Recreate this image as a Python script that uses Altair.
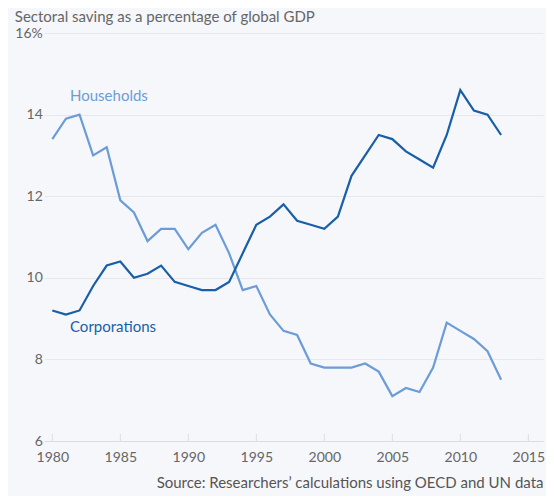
import altair as alt
import pandas as pd

years = list(range(1980, 2014))
households = [13.4, 13.9, 14.0, 13.0, 13.2, 11.9, 11.6, 10.9, 11.2, 11.2,
              10.7, 11.1, 11.3, 10.6, 9.7, 9.8, 9.1, 8.7, 8.6, 7.9,
              7.8, 7.8, 7.8, 7.9, 7.7, 7.1, 7.3, 7.2, 7.8, 8.9,
              8.7, 8.5, 8.2, 7.5]
corporations = [9.2, 9.1, 9.2, 9.8, 10.3, 10.4, 10.0, 10.1, 10.3, 9.9,
                 9.8, 9.7, 9.7, 9.9, 10.6, 11.3, 11.5, 11.8, 11.4, 11.3,
                 11.2, 11.5, 12.5, 13.0, 13.5, 13.4, 13.1, 12.9, 12.7, 13.5,
                 14.6, 14.1, 14.0, 13.5]
tick_years = [1980, 1985, 1990, 1995, 2000, 2005, 2010, 2015]
y_ticks = [6, 8, 10, 12, 14, 16]

label_names = ["Households", "Corporations"]
label_x = [1981.3, 1981.3]
label_y = [14.45, 8.8]

FONT = "Lato"
C_H = "#6c9cd8"
C_C = "#185fa8"

df = pd.DataFrame({
    "year": years * 2,
    "value": households + corporations,
    "series": ["Households"] * len(years) + ["Corporations"] * len(years),
})
labels = pd.DataFrame({"name": label_names, "year": label_x, "value": label_y})
ticks = pd.DataFrame({"year": tick_years, "y0": [6] * len(tick_years), "y1": [6.17] * len(tick_years)})

xscale = alt.Scale(domain=[1979.41, 2016.08], nice=False, zero=False)
yscale = alt.Scale(domain=[6, 16], nice=False, zero=False)
cscale = alt.Scale(domain=["Households", "Corporations"], range=[C_H, C_C])

lines = alt.Chart(df).mark_line(strokeWidth=2.2).encode(
    x=alt.X("year:Q", scale=xscale,
            axis=alt.Axis(values=tick_years, format="d", grid=False, ticks=False,
                          domainColor="#d9dce3", labelColor="#666666", labelFontSize=14,
                          labelFont=FONT, labelPadding=9,
                          title="Source: Researchers\u2019 calculations using OECD and UN data",
                          titleAnchor="end", titleAlign="right", titleFontWeight="normal",
                          titleFont=FONT, titleFontSize=15, titleColor="#555555",
                          titlePadding=11)),
    y=alt.Y("value:Q", scale=yscale,
            axis=alt.Axis(values=y_ticks, ticks=False, domain=False, gridColor="#e6e8ee",
                          labelColor="#666666", labelFontSize=14, labelFont=FONT,
                          labelPadding=2,
                          labelExpr="datum.value == 16 ? '16%' : datum.label",
                          title=None)),
    color=alt.Color("series:N", scale=cscale, legend=None),
    detail="series:N",
)

tick_rules = alt.Chart(ticks).mark_rule(color="#d9dce3", strokeWidth=1).encode(
    x=alt.X("year:Q", scale=xscale),
    y=alt.Y("y0:Q", scale=yscale),
    y2="y1:Q",
)

texts = alt.Chart(labels).mark_text(align="left", baseline="middle", fontSize=15, font=FONT).encode(
    x=alt.X("year:Q", scale=xscale),
    y=alt.Y("value:Q", scale=yscale),
    text="name:N",
    color=alt.Color("name:N", scale=cscale, legend=None),
)

chart = alt.layer(tick_rules, lines, texts).properties(
    width=498.7,
    height=408,
    autosize=alt.AutoSizeParams(type="none"),
    padding={"left": 36.3, "top": 25, "right": 3, "bottom": 55},
    title=alt.TitleParams("Sectoral saving as a percentage of global GDP", anchor="start",
                          font=FONT, fontSize=15, fontWeight="normal", color="#666666",
                          dx=0, offset=1.2),
).configure(background="#f5f7fb").configure_view(stroke=None)

chart.save("out.html", embed_options={"renderer": "svg", "actions": False})
